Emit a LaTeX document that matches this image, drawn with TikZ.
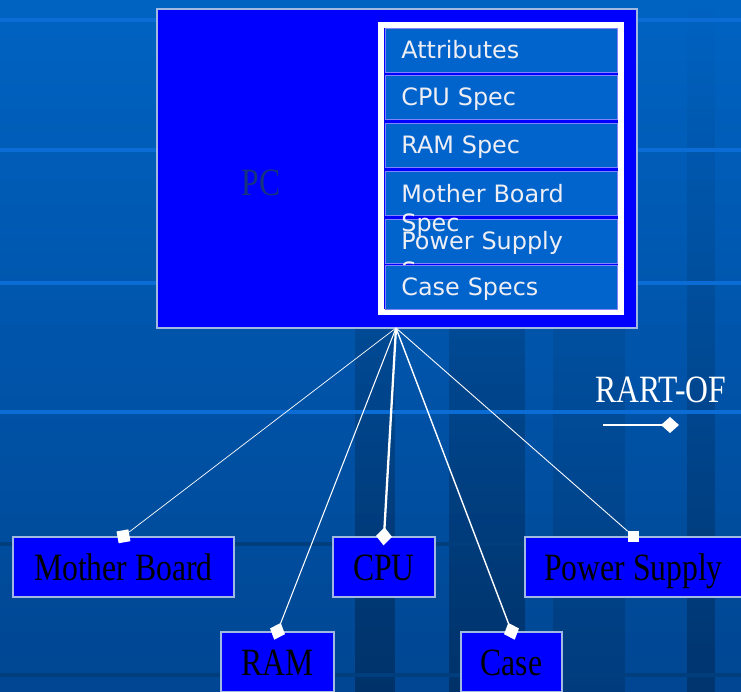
\documentclass[tikz,border=0pt]{standalone}
\usepackage{fontspec}
\setmainfont{Liberation Serif}[FakeStretch=0.82]
\newfontfamily\specfont{DejaVu Sans}
\usetikzlibrary{arrows.meta}
\usetikzlibrary{fadings}
\definecolor{bgtop}{RGB}{0,99,194}
\definecolor{bgbottom}{RGB}{0,70,146}
\definecolor{gridlight}{RGB}{10,108,212}
\definecolor{griddark}{RGB}{0,62,126}
\definecolor{boxblue}{RGB}{0,0,255}
\definecolor{rowblue}{RGB}{0,100,204}
\definecolor{rowline}{RGB}{130,130,255}
\definecolor{boxedge}{RGB}{160,184,226}
\definecolor{pcnavy}{RGB}{22,52,124}
\definecolor{spectext}{RGB}{238,238,244}

\begin{document}
\begin{tikzpicture}[
    x=0.02cm, y=-0.02cm,
    gridline/.style={gridlight, line width=0.08cm},
    darkline/.style={griddark, line width=0.08cm},
    stripe/.style={fill=black, path fading=north},
    pcbox/.style={rectangle, draw=boxedge, line width=0.8pt, fill=boxblue, minimum width=9.6cm, minimum height=6.38cm, inner sep=0pt},
    specpanel/.style={rectangle, draw=white, line width=0.12cm, fill=boxblue, minimum width=4.8cm, minimum height=5.74cm, inner sep=0pt},
    specrow/.style={rectangle, fill=rowblue, draw=rowline, line width=0.4pt, minimum width=4.64cm, minimum height=0.88cm, inner sep=0pt},
    spectext/.style={anchor=north west, inner sep=0pt, text width=4cm, align=left, text=spectext, font=\specfont\fontsize{13.6}{17}\selectfont},
    partbox/.style={rectangle, draw=boxedge, line width=0.8pt, fill=boxblue, minimum height=1.2cm, inner sep=0pt, text height=15pt, text depth=0pt, font=\fontsize{22}{24}\selectfont},
    sqjoint/.style={rectangle, fill=white, minimum size=0.24cm, inner sep=0pt},
    partline/.style={white},
    diatip/.style={-{Diamond[length=0.36cm, width=0.32cm]}, shorten >=-0.18cm}
]
    \useasboundingbox (0,0) rectangle (741,692);
    \clip (0,0) rectangle (741,692);

    % slide background
    \shade[top color=bgtop, bottom color=bgbottom] (0,0) rectangle (741,692);
    \fill[stripe, fill opacity=0.28] (355,0) rectangle (395,692);
    \fill[stripe, fill opacity=0.28] (449,0) rectangle (525,692);
    \fill[stripe, fill opacity=0.14] (553,0) rectangle (625,692);
    \fill[stripe, fill opacity=0.24] (687,0) rectangle (715,692);
    \draw[gridline] (0,20) -- (741,20);
    \draw[gridline] (0,150) -- (741,150);
    \draw[gridline] (0,283) -- (741,283);
    \draw[gridline] (0,412) -- (741,412);
    \draw[darkline] (0,544) -- (741,544);
    \draw[darkline] (0,675) -- (741,675);

    % whole
    \node[pcbox] (pc) at (397,168.5) {};
    \node[text=pcnavy, text height=14pt, text depth=0pt, font=\fontsize{22}{24}\selectfont] (pclabel) at (261,183) {PC};

    % attribute list
    \node[specpanel] (specs) at (501,168.5) {};
    \node[specrow] (attrrow) at (501,50) {};
    \node[spectext] (attrtext) at (401,40) {Attributes};
    \node[specrow] (cpurow) at (501,97.5) {};
    \node[spectext] (cputext) at (401,87.5) {CPU Spec};
    \node[specrow] (ramrow) at (501,145.5) {};
    \node[spectext] (ramtext) at (401,135.5) {RAM Spec};
    \node[specrow] (psrow) at (501,241) {};
    \node[spectext] (pstext) at (401,231) {Power Supply Spec};
    \node[specrow] (mbrow) at (501,193.5) {};
    \node[spectext] (mbtext) at (401,183.5) {Mother Board Spec};
    \node[specrow] (caserow) at (501,287.5) {};
    \node[spectext] (casetext) at (401,277.5) {Case Specs};

    % parts
    \node[partbox, minimum width=4.42cm] (mb) at (123.5,567) {Mother Board};
    \node[partbox, minimum width=2.04cm] (cpu) at (384,567) {CPU};
    \node[partbox, minimum width=4.34cm] (ps) at (633.5,567) {Power Supply};
    \node[partbox, minimum width=2.26cm] (ram) at (277.5,662) {RAM};
    \node[partbox, minimum width=2.02cm] (case) at (511.5,662) {Case};

    \coordinate (hub) at (396,328);
    \node[sqjoint, rotate=10] (mbjoint) at (mb.north) {};
    \node[sqjoint, minimum size=0.22cm] (psjoint) at (ps.north) {};

    \draw[partline, line width=0.4pt] (hub) -- (mbjoint);
    \draw[partline, line width=0.6pt, diatip] (hub) -- (ram.north);
    \draw[partline, line width=1.3pt, diatip] (hub) -- (cpu.north);
    \draw[partline, line width=0.8pt, diatip] (hub) -- (case.north);
    \draw[partline, line width=0.5pt] (hub) -- (psjoint);

    % legend
    \node[text=white, text height=12pt, text depth=0pt, font=\fontsize{22}{24}\selectfont] (legend) at (661,392) {RART-OF};
    \coordinate (legstart) at (603,425);
    \coordinate (legtip) at (670,425);
    \draw[partline, line width=1.2pt, diatip] (legstart) -- (legtip);
\end{tikzpicture}
\end{document}
